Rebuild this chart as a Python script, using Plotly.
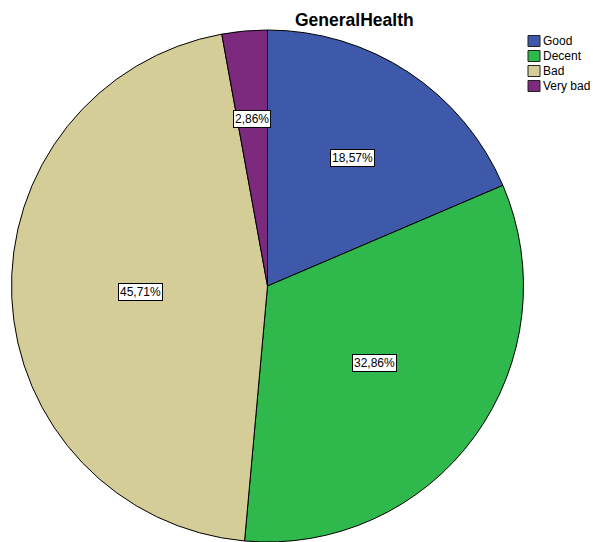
import math
import plotly.graph_objects as go

categories = ["Good", "Decent", "Bad", "Very bad"]
counts = [13, 23, 32, 2]
colors = ["#3F59AA", "#2FB84B", "#D4CD98", "#7C2A7D"]
label_radius = [0.60, 0.515, 0.495, 0.655]

# Body margin is removed in post_script, so screen pixels == figure pixels.
OFF = 0
W, H = 593, 542
cx, cy, R = 267.5, 286.0, 256.0


def px_x(sx):
    return (sx - OFF) / W


def px_y(sy):
    return 1 - (sy - OFF) / H


fig = go.Figure(go.Pie(
    labels=categories, values=counts, sort=False, direction="clockwise", rotation=0,
    marker=dict(colors=colors, line=dict(color="black", width=1)),
    textinfo="none", hoverinfo="label+percent", showlegend=False,
    domain=dict(x=[px_x(cx - R), px_x(cx + R)], y=[max(0, px_y(cy + R)), px_y(cy - R)]),
))

total = sum(counts)
cum = 0
for c, f in zip(counts, label_radius):
    mid = (cum + c / 2) / total * 2 * math.pi
    cum += c
    sx = cx + R * f * math.sin(mid)
    sy = cy - R * f * math.cos(mid)
    pct = f"{100 * c / total:.2f}".replace(".", ",") + "%"
    fig.add_annotation(x=px_x(sx), y=px_y(sy), xref="paper", yref="paper", text=pct,
                       xanchor="center", yanchor="middle",
                       showarrow=False, bgcolor="white", bordercolor="black", borderwidth=1,
                       borderpad=1, font=dict(size=12, color="black"))

fig.add_annotation(x=px_x(354.5), y=px_y(19.5), xref="paper", yref="paper",
                   text="<b>GeneralHealth</b>", showarrow=False,
                   xanchor="center", yanchor="middle",
                   font=dict(size=17.5, color="black"))

# legend key (drawn as shapes + text)
for i, (name, col) in enumerate(zip(categories, colors)):
    yc = 41 + 15 * i
    fig.add_shape(type="rect", xref="paper", yref="paper",
                  x0=px_x(528), x1=px_x(540), y0=px_y(yc + 5.5), y1=px_y(yc - 5.5),
                  fillcolor=col, line=dict(color="#222222", width=1))
    fig.add_annotation(x=px_x(542), y=px_y(yc), xref="paper", yref="paper", text=name,
                       showarrow=False, xanchor="left", yanchor="middle",
                       font=dict(size=12, color="black"), borderpad=0)

fig.update_layout(
    width=W, height=H, margin=dict(l=0, r=0, t=0, b=0), autosize=False,
    paper_bgcolor="white", plot_bgcolor="white", showlegend=False,
    font=dict(family="Liberation Sans, Arial, sans-serif", color="black"),
)
fig.write_html(
    "out.html",
    config={"displayModeBar": False},
    post_script="document.body.style.margin='0';document.documentElement.style.overflow='hidden';",
)
